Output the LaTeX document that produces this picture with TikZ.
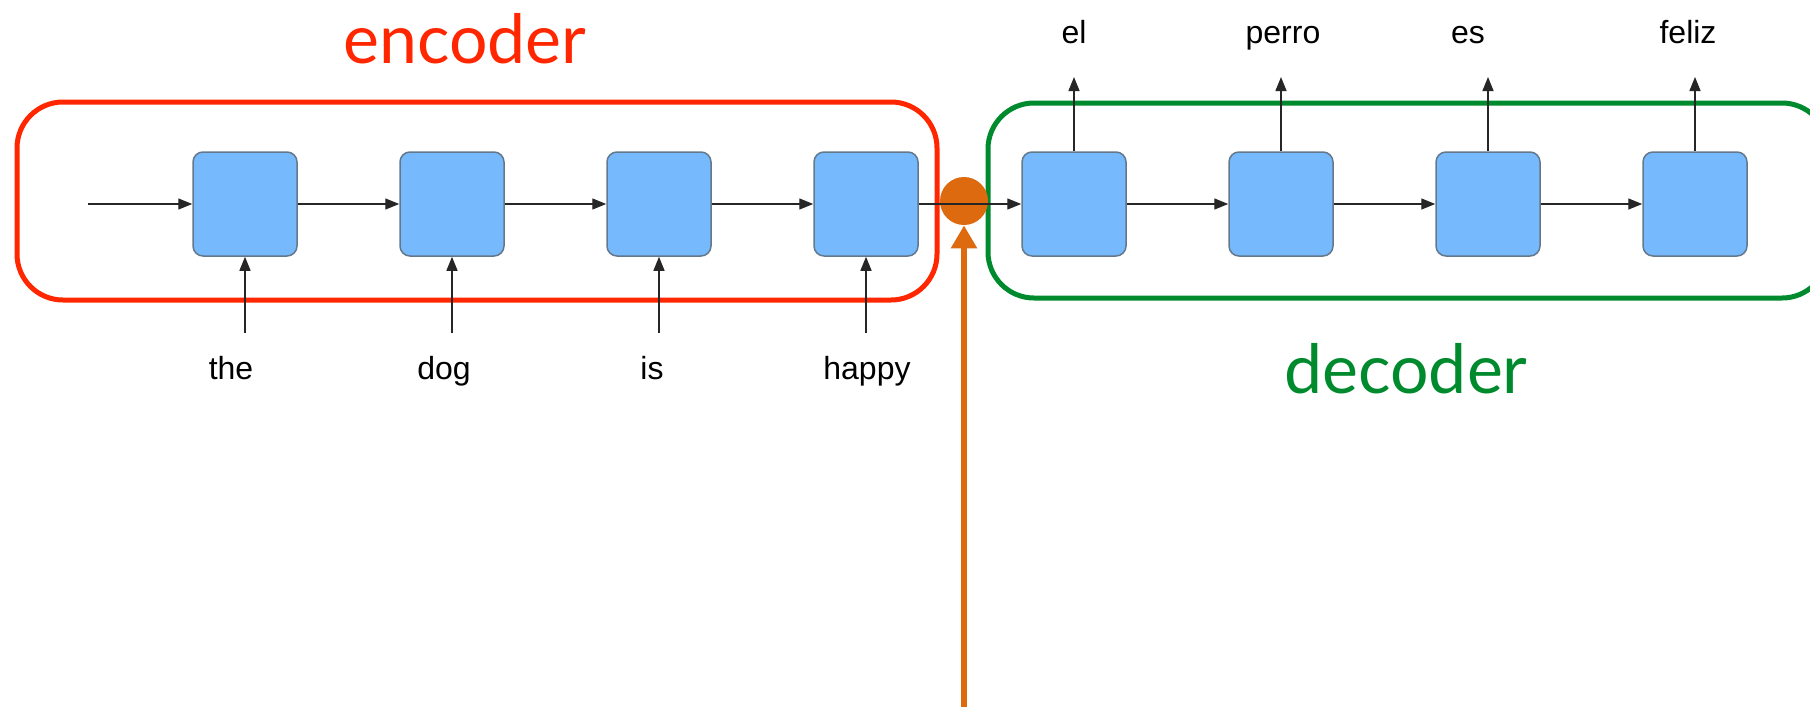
\documentclass[tikz,border=0pt]{standalone}
\usepackage{fontspec}
\setmainfont{Liberation Sans}
\newfontfamily\titlefont{Lato}
\usetikzlibrary{arrows.meta}
\definecolor{encred}{RGB}{255,38,0}
\definecolor{decgreen}{RGB}{0,138,46}
\definecolor{cellblue}{RGB}{118,185,253}
\definecolor{cellborder}{RGB}{100,120,140}
\definecolor{ctxorange}{RGB}{222,106,16}
\tikzset{
  cell/.style={draw=cellborder, line width=0.75pt, fill=cellblue, rounded corners=5pt,
    minimum width=52pt, minimum height=52pt, inner sep=0pt},
  conn/.style={draw=black!85, line width=0.7pt, -{Triangle[length=7pt,width=5.5pt]}},
  word/.style={font=\fontsize{16pt}{18pt}\selectfont, anchor=base, inner sep=0pt},
  title/.style={font=\titlefont\fontsize{34pt}{38pt}\selectfont, anchor=base, inner sep=0pt},
  group/.style={line width=2.5pt, rounded corners=23pt},
}
\begin{document}
\begin{tikzpicture}[x=0.5pt,y=-0.5pt]
\useasboundingbox (0,0) rectangle (1810,707);
% group frames
\draw[group, encred] (17,102) rectangle (937,300);
\draw[group, decgreen] (988,103) rectangle (1828,298);
% titles
\node[title, text=encred] (enc) at (465,63) {encoder};
\node[title, text=decgreen] (dec) at (1406,393) {decoder};
% encoder cells
\node[cell] (e1) at (245,204) {};
\node[cell] (e2) at (452,204) {};
\node[cell] (e3) at (659,204) {};
\node[cell] (e4) at (866,204) {};
% decoder cells
\node[cell] (d1) at (1074,204) {};
\node[cell] (d2) at (1281,204) {};
\node[cell] (d3) at (1488,204) {};
\node[cell] (d4) at (1695,204) {};
% context vector
\node[circle, fill=ctxorange, minimum size=24pt, inner sep=0pt] (ctx) at (964,201) {};
\coordinate (ctxin) at (964,707);
\draw[ctxorange, line width=3pt, -{Triangle[length=11.5pt,width=12.5pt]}] (ctxin) -- (ctx.south);
% input words
\node[word] (w1) at (231,379) {the};
\node[word] (w2) at (444,379) {dog};
\node[word] (w3) at (652,379) {is};
\node[word] (w4) at (867,379) {happy};
\coordinate (i1) at (245,333);
\coordinate (i2) at (452,333);
\coordinate (i3) at (659,333);
\coordinate (i4) at (866,333);
\coordinate (i0) at (88,204);
% output words
\node[word] (o1) at (1074,43) {el};
\node[word] (o2) at (1283,43) {perro};
\node[word] (o3) at (1468,43) {es};
\node[word] (o4) at (1688,43) {feliz};
\coordinate (u1) at (1074,77);
\coordinate (u2) at (1281,77);
\coordinate (u3) at (1488,77);
\coordinate (u4) at (1695,77);
% recurrent connectors
\draw[conn] (i0) -- (e1.west);
\draw[conn] (e1) -- (e2);
\draw[conn] (e2) -- (e3);
\draw[conn] (e3) -- (e4);
\draw[conn] (e4.east) -- (d1.west);
\draw[conn] (d1) -- (d2);
\draw[conn] (d2) -- (d3);
\draw[conn] (d3) -- (d4);
% input and output connectors
\foreach \k in {1,2,3,4} {
  \draw[conn] (i\k) -- (e\k.south);
  \draw[conn] (d\k.north) -- (u\k);
}
\end{tikzpicture}
\end{document}
